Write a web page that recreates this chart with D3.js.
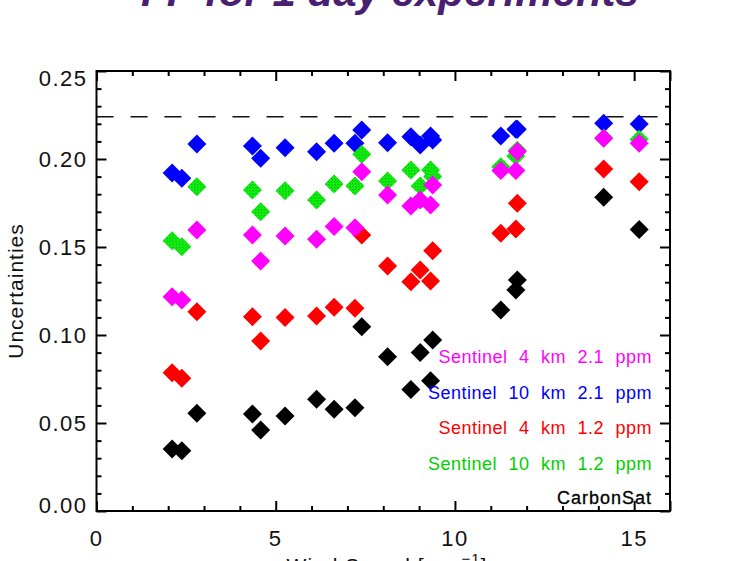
<!DOCTYPE html>
<html>
<head>
<meta charset="utf-8">
<script src="https://cdn.jsdelivr.net/npm/d3@7"></script>
<style>
  body { margin: 0; background: #fff; }
  svg { display: block; }
</style>
</head>
<body>
<div id="chart"></div>
<script>
// wind speed of each case [m/s]
var windSpeed = [2.11, 2.38, 2.80, 4.35, 4.58, 5.26, 6.14, 6.63, 7.21, 7.40,
                 8.12, 8.77, 9.03, 9.32, 9.38, 11.28, 11.70, 11.74, 14.15, 15.14];

// uncertainties per case
var carbonSat   = [0.0352, 0.0343, 0.0555, 0.0551, 0.0460, 0.0540, 0.0635, 0.0578, 0.0587, 0.1047,
                   0.0877, 0.0691, 0.0900, 0.0740, 0.0972, 0.1142, 0.1256, 0.1313, 0.1782, 0.1600];
var sen4km12    = [0.0786, 0.0754, 0.1132, 0.1104, 0.0966, 0.1100, 0.1108, 0.1157, 0.1152, 0.1568,
                   0.1392, 0.1303, 0.1369, 0.1307, 0.1479, 0.1578, 0.1602, 0.1748, 0.1943, 0.1871];
var sen10km21   = [0.1920, 0.1890, 0.2085, 0.2074, 0.2004, 0.2064, 0.2041, 0.2089, 0.2089, 0.2165,
                   0.2093, 0.2127, 0.2080, 0.2131, 0.2108, 0.2131, 0.2169, 0.2169, 0.2203, 0.2199];
var sen10km12   = [0.1536, 0.1502, 0.1843, 0.1824, 0.1700, 0.1820, 0.1767, 0.1858, 0.1847, 0.2027,
                   0.1875, 0.1938, 0.1847, 0.1938, 0.1900, 0.1956, 0.2017, 0.2050, 0.2120, 0.2112];
var sen4km21    = [0.1218, 0.1199, 0.1597, 0.1568, 0.1420, 0.1562, 0.1544, 0.1616, 0.1610, 0.1928,
                   0.1795, 0.1733, 0.1767, 0.1739, 0.1852, 0.1934, 0.1934, 0.2042, 0.2118, 0.2089];

var legendLabels = ["Sentinel 4 km 2.1 ppm", "Sentinel 10 km 2.1 ppm",
                    "Sentinel 4 km 1.2 ppm", "Sentinel 10 km 1.2 ppm"];
var refLevel = 0.224;
var xTicks = [0, 5, 10, 15];
var yTicks = [0.00, 0.05, 0.10, 0.15, 0.20, 0.25];

var W = 740, H = 561;
var margin = {top: 71, right: 70, bottom: 50, left: 96.5};
var width = W - margin.left - margin.right, height = H - margin.top - margin.bottom;

var svg = d3.select("#chart").append("svg")
    .attr("width", W).attr("height", H);

// hatched green fill
var defs = svg.append("defs");
var pat = defs.append("pattern").attr("id", "greenFill")
    .attr("width", 3).attr("height", 3).attr("patternUnits", "userSpaceOnUse");
pat.append("rect").attr("width", 3).attr("height", 3).attr("fill", "#12f012");
pat.append("rect").attr("width", 1).attr("height", 1).attr("fill", "#00a800");
pat.append("rect").attr("x", 1).attr("y", 1).attr("width", 1).attr("height", 1).attr("fill", "#08c808");

// title, mostly cut off at the top
svg.append("text")
    .attr("x", 390).attr("y", 6)
    .attr("text-anchor", "middle")
    .attr("font-family", "Liberation Sans, Arial, sans-serif")
    .attr("font-size", 42).attr("font-weight", "bold").attr("font-style", "italic")
    .attr("fill", "#4a1f72")
    .text("FP for 1 day experiments");

var g = svg.append("g")
    .attr("transform", "translate(" + margin.left + "," + margin.top + ")");

var x = d3.scaleLinear().domain([0, 16]).range([0, width]);
var y = d3.scaleLinear().domain([0, 0.25]).range([height, 0]);

// ticks on all four sides, pointing inwards
function tickAxis(axisFn, scale, major, minor, transform) {
    var a1 = g.append("g").attr("transform", transform)
        .call(axisFn(scale).tickValues(major).tickSize(-10).tickFormat(""));
    var a2 = g.append("g").attr("transform", transform)
        .call(axisFn(scale).tickValues(minor).tickSize(-5).tickFormat(""));
    [a1, a2].forEach(function (a) {
        a.select(".domain").remove();
        a.selectAll("line").attr("stroke", "#000").attr("stroke-width", 2);
    });
}
var xMinor = d3.range(1, 16).filter(function (v) { return v % 5 !== 0; });
var yMinor = d3.range(1, 25).filter(function (v) { return v % 5 !== 0; }).map(function (v) { return v / 100; });
tickAxis(d3.axisBottom, x, xTicks.concat([16]), xMinor, "translate(0," + height + ")");
tickAxis(d3.axisTop, x, xTicks.concat([16]), xMinor, "translate(0,0)");
tickAxis(d3.axisLeft, y, yTicks, yMinor, "translate(0,0)");
tickAxis(d3.axisRight, y, yTicks, yMinor, "translate(" + width + ",0)");

// tick labels
var labelFont = "Liberation Sans, Arial, sans-serif";
g.selectAll(".xlab").data(xTicks).enter().append("text")
    .attr("class", "xlab")
    .attr("x", function (d) { return x(d); })
    .attr("y", height + 35)
    .attr("text-anchor", "middle")
    .attr("font-family", labelFont).attr("font-size", 22).attr("letter-spacing", 1.5)
    .attr("fill", "#111")
    .text(function (d) { return d; });

g.selectAll(".ylab").data(yTicks).enter().append("text")
    .attr("class", "ylab")
    .attr("x", -9)
    .attr("y", function (d) { return Math.min(Math.max(y(d), 7), height - 6); })
    .attr("dy", "0.36em")
    .attr("text-anchor", "end")
    .attr("font-family", labelFont).attr("font-size", 22).attr("letter-spacing", 1.5)
    .attr("fill", "#111")
    .text(function (d) { return d.toFixed(2); });

// axis titles
svg.append("text")
    .attr("transform", "translate(23," + (margin.top + height / 2) + ") rotate(-90)")
    .attr("text-anchor", "middle")
    .attr("font-family", labelFont).attr("font-size", 21).attr("letter-spacing", 1)
    .attr("fill", "#111")
    .text("Uncertainties");

var xt = svg.append("text")
    .attr("x", 387).attr("y", 573)
    .attr("text-anchor", "middle")
    .attr("font-family", labelFont).attr("font-size", 21).attr("letter-spacing", 1)
    .attr("fill", "#111");
xt.append("tspan").text("Wind Speed [m s");
xt.append("tspan").attr("dy", -9).attr("font-size", 15).text("\u22121");
xt.append("tspan").attr("dy", 9).text("]");

// dashed reference line
g.append("line")
    .attr("x1", 0).attr("x2", width)
    .attr("y1", y(refLevel)).attr("y2", y(refLevel))
    .attr("stroke", "#111").attr("stroke-width", 1.6)
    .attr("stroke-dasharray", "17,17");

// frame
g.append("rect")
    .attr("width", width).attr("height", height)
    .attr("fill", "none").attr("stroke", "#000").attr("stroke-width", 2);

// diamonds
var r = 9.5;
var diamond = "M0," + (-r) + "L" + r + ",0L0," + r + "L" + (-r) + ",0Z";
var series = [
    {values: carbonSat, fill: "#000000"},
    {values: sen4km12, fill: "#ff0000"},
    {values: sen10km21, fill: "#0000ff"},
    {values: sen10km12, fill: "url(#greenFill)"},
    {values: sen4km21, fill: "#ff00ff"}
];
series.forEach(function (s) {
    g.append("g").selectAll("path")
        .data(windSpeed.map(function (w, i) { return [w, s.values[i]]; }))
        .enter().append("path")
        .attr("d", diamond)
        .attr("transform", function (d) { return "translate(" + x(d[0]) + "," + y(d[1]) + ")"; })
        .attr("fill", s.fill);
});

// legend text
var legendColors = ["#ff00ff", "#0000ff", "#ff0000", "#00d000"];
g.selectAll(".leg").data(legendLabels).enter().append("text")
    .attr("class", "leg")
    .attr("x", width - 18)
    .attr("y", function (d, i) { return 286 + i * 35.5; })
    .attr("dy", "0.36em")
    .attr("text-anchor", "end")
    .attr("font-family", labelFont).attr("font-size", 18)
    .attr("letter-spacing", 0.5).attr("word-spacing", 6)
    .attr("fill", function (d, i) { return legendColors[i]; })
    .text(function (d) { return d; });

g.append("text")
    .attr("x", width - 18).attr("y", 427).attr("dy", "0.36em")
    .attr("text-anchor", "end")
    .attr("font-family", labelFont).attr("font-size", 18).attr("letter-spacing", 1)
    .attr("fill", "#000").attr("stroke", "#000").attr("stroke-width", 0.3)
    .text("CarbonSat");
</script>
</body>
</html>
